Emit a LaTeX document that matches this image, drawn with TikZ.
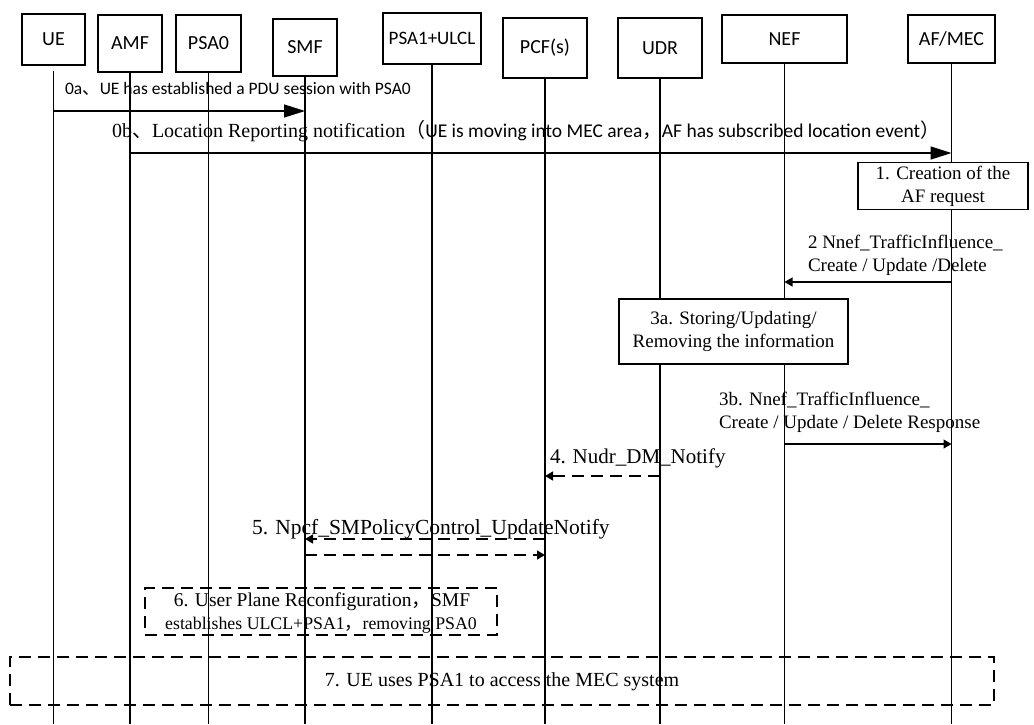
\documentclass[tikz,border=0pt]{standalone}
\usepackage{fontspec}
\setmainfont{Liberation Serif}
\newfontfamily\lblfont{Carlito}
\newfontfamily\cjk{Noto Sans CJK SC}
\usetikzlibrary{arrows.meta}
\begin{document}
\begin{tikzpicture}[x=1pt,y=-1pt,
  every node/.style={inner sep=0pt,outer sep=0pt},
  actor/.style={draw,line width=1.3pt,fill=white,
    font=\lblfont\fontsize{20}{24}\selectfont},
  life/.style={line width=1.3pt},
  bigmsg/.style={line width=1.3pt,-{Triangle[length=21pt,width=13pt]}},
  msg/.style={line width=1.3pt,-{Triangle[length=8pt,width=9pt]}},
  dmsg/.style={msg,dash pattern=on 12pt off 7pt},
  serif/.style={font=\fontsize{19}{23}\selectfont},
  sans/.style={font=\lblfont\fontsize{17.5}{20}\selectfont},
  procbox/.style={draw,line width=1.3pt,fill=white,align=center,serif},
  dbox/.style={draw,line width=1.3pt,dash pattern=on 12pt off 7pt},
]
\useasboundingbox (0,0) rectangle (1034,724);
\fill[white] (0,0) rectangle (1034,724);

% participants
\node[actor,minimum width=63pt,minimum height=51pt] (ue)  at (53.5,39.5) {UE};
\node[actor,minimum width=64pt,minimum height=57pt] (amf) at (130,43.5) {AMF};
\node[actor,minimum width=65pt,minimum height=57pt] (psa0) at (208.5,43.5) {PSA0};
\node[actor,minimum width=64pt,minimum height=57pt] (smf) at (305,47.5) {SMF};
\node[actor,minimum width=98pt,minimum height=51pt,
      font=\lblfont\fontsize{19}{22}\selectfont] (psa1) at (432,38.5) {PSA1+ULCL};
\node[actor,minimum width=84pt,minimum height=60pt] (pcf) at (545,48) {PCF(s)};
\node[actor,minimum width=84pt,minimum height=60pt] (udr) at (660,48) {UDR};
\node[actor,minimum width=125pt,minimum height=48pt] (nef) at (784.5,39) {NEF};
\node[actor,minimum width=87pt,minimum height=48pt] (af) at (951.5,39) {AF/MEC};

\coordinate (bottom) at (0,724);

% lifelines
\draw[life] ([yshift=-6pt]ue.south) -- (ue.south |- bottom);
\foreach \p in {amf,psa0,smf,psa1,pcf,udr,nef,af}
  \draw[life] (\p.south) -- (\p.south |- bottom);

% message levels
\coordinate (y0a) at (0,111);
\coordinate (y0b) at (0,153);
\coordinate (y2)  at (0,282);
\coordinate (y3b) at (0,444);
\coordinate (y4)  at (0,476);
\coordinate (y5a) at (0,539);
\coordinate (y5b) at (0,555);

% 0a
\node[sans,anchor=west] (t0a) at (65,89)
  {0a{\cjk 、}UE has established a PDU session with PSA0};
\draw[bigmsg] (ue |- y0a) -- (smf |- y0a);

% 0b
\node[font=\fontsize{20}{24}\selectfont,anchor=west] (t0b) at (112,131)
  {0b{\cjk 、}Location Reporting notification{\cjk （}{\lblfont\fontsize{19.5}{22}\selectfont UE is moving into MEC area{\cjk ，}AF has subscribed location event{\cjk ）}}};
\draw[bigmsg] (amf |- y0b) -- (af |- y0b);

% 1
\node[procbox,minimum width=170pt,minimum height=47pt] (s1) at (943,186)
  {1. Creation of the\\AF request};

% 2
\node[serif,anchor=west,align=left] (t2) at (808,255)
  {2 Nnef\_TrafficInfluence\_\\Create / Update /Delete};
\draw[msg] (af |- y2) -- (nef |- y2);

% 3a
\node[procbox,minimum width=229pt,minimum height=65pt] (s3a) at (733.5,331.5)
  {3a. Storing/Updating/\\Removing the information};

% 3b
\node[serif,anchor=west,align=left] (t3b) at (719,412)
  {3b. Nnef\_TrafficInfluence\_\\Create / Update / Delete Response};
\draw[msg] (nef |- y3b) -- (af |- y3b);

% 4
\node[font=\fontsize{21}{24}\selectfont,anchor=west] (t4) at (550,458) {4. Nudr\_DM\_Notify};
\draw[dmsg] (udr |- y4) -- (pcf |- y4);

% 5
\node[font=\fontsize{21.5}{24}\selectfont,anchor=west] (t5) at (252,529) {5. Npcf\_SMPolicyControl\_UpdateNotify};
\draw[dmsg] (pcf |- y5a) -- (smf |- y5a);
\draw[dmsg] (smf |- y5b) -- (pcf |- y5b);

% 6
\node[dbox,minimum width=352pt,minimum height=47pt] (s6) at (321,611.5) {};
\node[font=\fontsize{19.5}{22}\selectfont,anchor=center] (t6a) at (322,602)
  {6. User Plane Reconfiguration{\cjk ，}SMF};
\node[font=\fontsize{17.8}{20}\selectfont,anchor=center] (t6b) at (321,625)
  {establishes ULCL+PSA1{\cjk ，}removing PSA0};

% 7
\node[dbox,minimum width=984pt,minimum height=48pt] (s7) at (502,681) {};
\node[font=\fontsize{20}{24}\selectfont,anchor=center] (t7) at (502,682) {7. UE uses PSA1 to access the MEC system};
\end{tikzpicture}
\end{document}
